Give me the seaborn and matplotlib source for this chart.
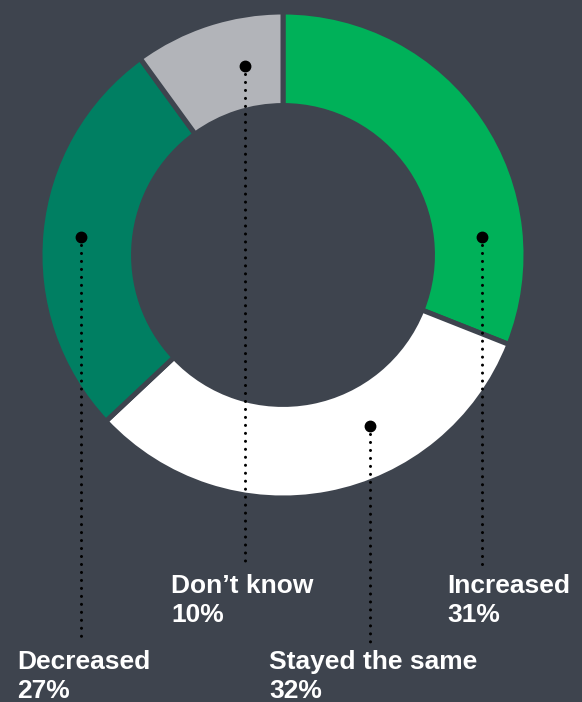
import matplotlib
matplotlib.use("Agg")
import matplotlib.pyplot as plt
import seaborn as sns

# ---- data ----
categories = ["Increased", "Stayed the same", "Decreased", "Don\u2019t know"]
values = [31, 32, 27, 10]
pct_labels = ["31%", "32%", "27%", "10%"]

colors = ["#00B159", "#FFFFFF", "#007F62", "#B2B4B9"]
bg = "#3E444E"

sns.set_theme(style="white")
plt.rcParams['font.family'] = ['Liberation Sans', 'DejaVu Sans']

W, H = 582, 702
fig = plt.figure(figsize=(W / 100, H / 100), dpi=100, facecolor=bg)

# pie axes (pixel geometry: center (283,255), radius 243)
cx, cy, R = 283, 255, 243
pax = fig.add_axes([(cx - R) / W, (H - cy - R) / H, 2 * R / W, 2 * R / H])
pax.set_facecolor(bg)
pax.pie(values, colors=colors, startangle=90, counterclock=False, radius=1.0,
        wedgeprops=dict(width=0.385, edgecolor=bg, linewidth=3.6))
pax.set_xlim(-1, 1)
pax.set_ylim(-1, 1)
pax.set_aspect("equal")
pax.axis("off")

# overlay axes in pixel coordinates
ax = fig.add_axes([0, 0, 1, 1])
ax.set_xlim(0, W)
ax.set_ylim(H, 0)
ax.axis("off")
ax.patch.set_alpha(0)

# annotation layout: dot (x, y), line end y, text x, text baseline y
layout = {
    "Increased": (482, 237, 567, 447, 593),
    "Stayed the same": (370, 426, 643, 269, 669),
    "Decreased": (81, 237, 643, 17, 669),
    "Don\u2019t know": (245, 66, 567, 171, 593),
}

for cat, pct in zip(categories, pct_labels):
    dx, dy, ly, tx, ty = layout[cat]
    ax.plot([dx, dx], [dy, ly], color="black", linewidth=2.2,
            linestyle=(0, (0.01, 2.6)), dash_capstyle="round", solid_capstyle="round")
    ax.plot([dx], [dy], marker="o", color="black", markersize=7.5)
    ax.text(tx, ty, cat, color="white", fontsize=19, fontweight="bold",
            ha="left", va="baseline")
    ax.text(tx, ty + 29, pct, color="white", fontsize=19, fontweight="bold",
            ha="left", va="baseline")

fig.savefig("out.png", dpi=100, facecolor=bg)
